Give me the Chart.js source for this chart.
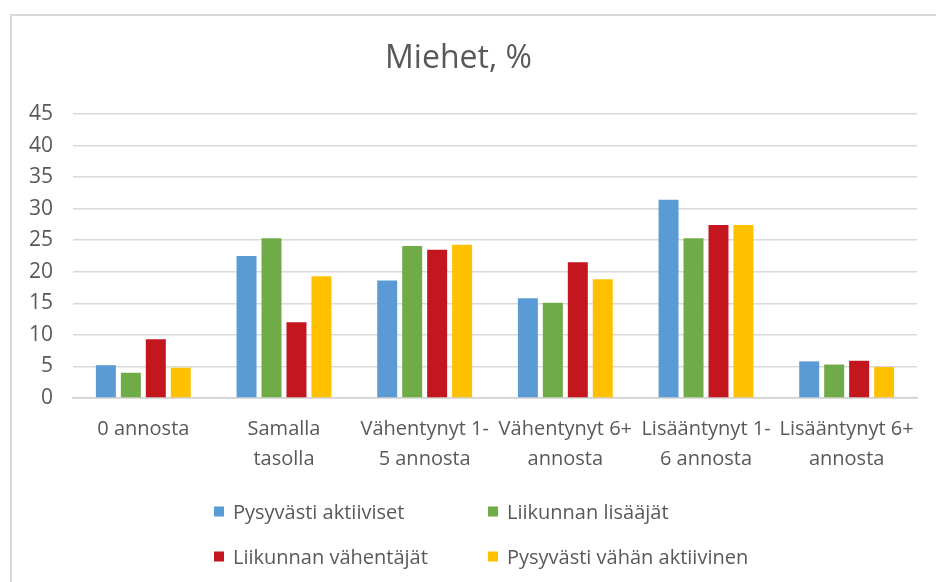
<!DOCTYPE html>
<html>
<head>
<meta charset="utf-8">
<script src="https://cdn.jsdelivr.net/npm/chart.js@4"></script>
<style>
  body { margin: 0; background: #fff; }
  #wrap { position: relative; width: 936px; height: 582px; overflow: hidden; }
  #frame { position: absolute; left: 10px; top: 14px; width: 960px; height: 600px; border: 2px solid #d9d9d9; }
  #chart { position: absolute; left: 0; top: 0; }
  .leg { position: absolute; font-family: "Open Sans"; font-size: 20px; color: #595959;
         display: flex; align-items: center; white-space: nowrap; transform: translateY(-50%); }
  .leg i { display: inline-block; width: 10px; height: 10px; margin-right: 9px; }
</style>
</head>
<body>
<div id="wrap">
  <div id="frame"></div>
  <canvas id="chart" width="936" height="582"></canvas>
</div>
<script>
const categories = [
  ['0 annosta'],
  ['Samalla', 'tasolla'],
  ['Vähentynyt 1-', '5 annosta'],
  ['Vähentynyt 6+', 'annosta'],
  ['Lisääntynyt 1-', '6 annosta'],
  ['Lisääntynyt 6+', 'annosta']
];
const seriesNames = ['Pysyvästi aktiiviset', 'Liikunnan lisääjät', 'Liikunnan vähentäjät', 'Pysyvästi vähän aktiivinen'];
const pysyvastiAktiiviset = [5.2, 22.5, 18.6, 15.8, 31.4, 5.8];
const liikunnanLisaajat = [4.0, 25.3, 24.1, 15.1, 25.3, 5.3];
const liikunnanVahentajat = [9.3, 12.0, 23.5, 21.5, 27.4, 5.9];
const vahanAktiivinen = [4.8, 19.3, 24.3, 18.8, 27.4, 4.9];
const yTicks = [0, 5, 10, 15, 20, 25, 30, 35, 40, 45];

const colors = ['#5b9bd5', '#6fab46', '#c4161e', '#ffc000'];
const seriesData = [pysyvastiAktiiviset, liikunnanLisaajat, liikunnanVahentajat, vahanAktiivinen];
const textColor = '#595959';
const font = 'Open Sans';

// html legend, two fixed columns like the original
const legendPos = [[214, 511], [488, 511], [214, 556], [488, 556]];
seriesNames.forEach((name, i) => {
  const d = document.createElement('div');
  d.className = 'leg';
  d.style.left = legendPos[i][0] + 'px';
  d.style.top = legendPos[i][1] + 'px';
  d.innerHTML = '<i style="background:' + colors[i] + '"></i>';
  d.appendChild(document.createTextNode(name));
  document.getElementById('wrap').appendChild(d);
});

new Chart(document.getElementById('chart'), {
  type: 'bar',
  data: {
    labels: categories,
    datasets: seriesNames.map((name, i) => ({
      label: name,
      data: seriesData[i],
      backgroundColor: colors[i],
      categoryPercentage: 0.71,
      barPercentage: 0.8
    }))
  },
  options: {
    responsive: false,
    animation: false,
    layout: { padding: { left: 0, right: 19, top: 0, bottom: 92 } },
    scales: {
      x: {
        grid: { display: false, drawTicks: false },
        border: { display: true, color: '#d0d0d0', width: 1.5 },
        ticks: {
          color: textColor,
          padding: 16,
          maxRotation: 0,
          autoSkip: false,
          font: { family: font, size: 20, lineHeight: 1.5 }
        }
      },
      y: {
        min: 0,
        max: 45,
        afterBuildTicks: (scale) => { scale.ticks = yTicks.map(v => ({ value: v })); },
        afterFit: (scale) => { scale.width = 73; },
        grid: { color: '#d9d9d9', lineWidth: 1.5, drawTicks: false },
        border: { display: false },
        ticks: {
          color: textColor,
          padding: 20,
          font: { family: font, size: 21 }
        }
      }
    },
    plugins: {
      legend: { display: false },
      tooltip: { enabled: false },
      title: {
        display: true,
        text: 'Miehet, %',
        color: textColor,
        font: { family: font, size: 32, weight: 'normal', lineHeight: 1.2 },
        padding: { top: 40, bottom: 35.6 }
      }
    }
  }
});
</script>
</body>
</html>
